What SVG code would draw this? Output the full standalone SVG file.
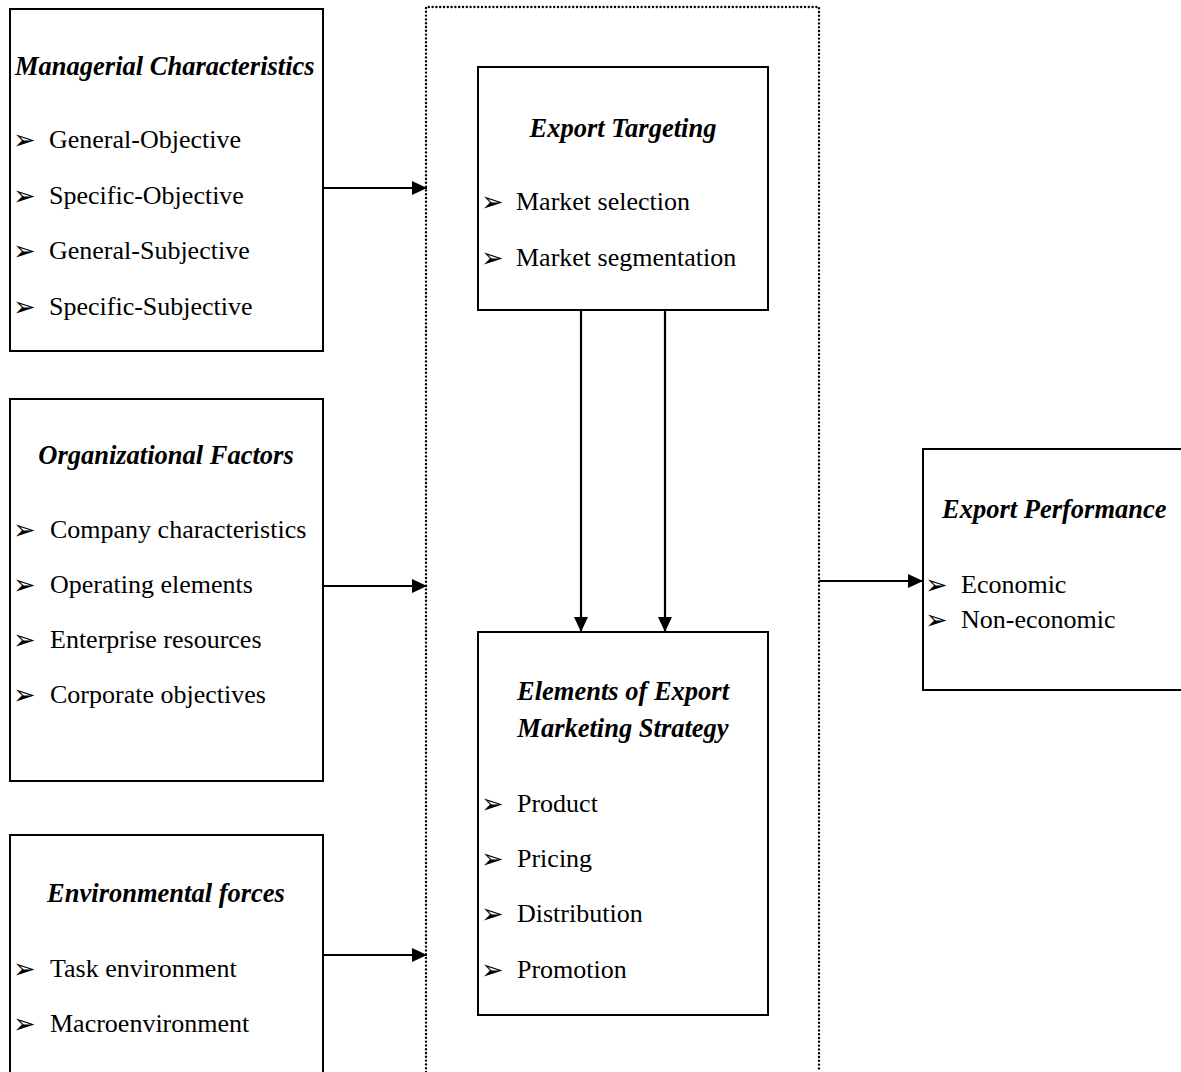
<svg xmlns="http://www.w3.org/2000/svg" width="1181" height="1072" viewBox="0 0 1181 1072">
<style>
.box{fill:#fff;stroke:#000;stroke-width:2}
.title{font-family:"Liberation Serif",serif;font-style:italic;font-weight:bold;font-size:26.5px;fill:#000}
.item{font-family:"Liberation Serif",serif;font-size:26px;fill:#000}
.bul{font-family:"DejaVu Sans",sans-serif;font-size:27px;fill:#000}
.conn{stroke:#000;stroke-width:2.2;fill:none}
.dot{stroke:#000;stroke-width:2.4;fill:none;stroke-dasharray:0 3.8;stroke-linecap:round}
</style>
<defs>
<marker id="ah" viewBox="0 0 15 14" refX="15" refY="7" markerWidth="15" markerHeight="14" markerUnits="userSpaceOnUse" orient="auto">
<path d="M0,0 L15,7 L0,14 Z" fill="#000"/>
</marker>
</defs>
<rect width="1181" height="1072" fill="#fff"/>

<g id="boundary">
<path class="dot" d="M426,1072 V7 H819 V1072"/>
</g>

<g id="managerial">
<rect class="box" x="10" y="9" width="313" height="342"/>
<text class="title" x="15" y="75">Managerial Characteristics</text>
<text class="bul" x="13" y="149">➢</text><text class="item" x="49" y="148">General-Objective</text>
<text class="bul" x="13" y="205">➢</text><text class="item" x="49" y="204">Specific-Objective</text>
<text class="bul" x="13" y="260">➢</text><text class="item" x="49" y="259">General-Subjective</text>
<text class="bul" x="13" y="316">➢</text><text class="item" x="49" y="315">Specific-Subjective</text>
</g>

<g id="organizational">
<rect class="box" x="10" y="399" width="313" height="382"/>
<text class="title" x="166" y="464" text-anchor="middle">Organizational Factors</text>
<text class="bul" x="13" y="539">➢</text><text class="item" x="50" y="538">Company characteristics</text>
<text class="bul" x="13" y="594">➢</text><text class="item" x="50" y="593">Operating elements</text>
<text class="bul" x="13" y="649">➢</text><text class="item" x="50" y="648">Enterprise resources</text>
<text class="bul" x="13" y="704">➢</text><text class="item" x="50" y="703">Corporate objectives</text>
</g>

<g id="environmental">
<path class="box" d="M10,1072 V835 H323 V1072"/>
<text class="title" x="166" y="902" text-anchor="middle">Environmental forces</text>
<text class="bul" x="13" y="978">➢</text><text class="item" x="50" y="977">Task environment</text>
<text class="bul" x="13" y="1033">➢</text><text class="item" x="50" y="1032">Macroenvironment</text>
</g>

<g id="targeting">
<rect class="box" x="478" y="67" width="290" height="243"/>
<text class="title" x="623" y="137" text-anchor="middle">Export Targeting</text>
<text class="bul" x="481" y="211">➢</text><text class="item" x="516" y="210">Market selection</text>
<text class="bul" x="481" y="267">➢</text><text class="item" x="516" y="266">Market segmentation</text>
</g>

<g id="elements">
<rect class="box" x="478" y="632" width="290" height="383"/>
<text class="title" x="623" y="700" text-anchor="middle">Elements of Export</text>
<text class="title" x="623" y="737" text-anchor="middle">Marketing Strategy</text>
<text class="bul" x="481" y="813">➢</text><text class="item" x="517" y="812">Product</text>
<text class="bul" x="481" y="868">➢</text><text class="item" x="517" y="867">Pricing</text>
<text class="bul" x="481" y="923">➢</text><text class="item" x="517" y="922">Distribution</text>
<text class="bul" x="481" y="979">➢</text><text class="item" x="517" y="978">Promotion</text>
</g>

<g id="performance">
<path class="box" d="M1181,449 H923 V690 H1181"/>
<text class="title" x="942" y="518">Export Performance</text>
<text class="bul" x="925" y="594">➢</text><text class="item" x="961" y="593">Economic</text>
<text class="bul" x="925" y="629">➢</text><text class="item" x="961" y="628">Non-economic</text>
</g>

<g id="connectors">
<line class="conn" x1="323" y1="188" x2="427" y2="188" marker-end="url(#ah)"/>
<line class="conn" x1="323" y1="586" x2="427" y2="586" marker-end="url(#ah)"/>
<line class="conn" x1="323" y1="955" x2="427" y2="955" marker-end="url(#ah)"/>
<line class="conn" x1="581" y1="310" x2="581" y2="632" marker-end="url(#ah)"/>
<line class="conn" x1="665" y1="310" x2="665" y2="632" marker-end="url(#ah)"/>
<line class="conn" x1="819" y1="581" x2="923" y2="581" marker-end="url(#ah)"/>
</g>
</svg>
